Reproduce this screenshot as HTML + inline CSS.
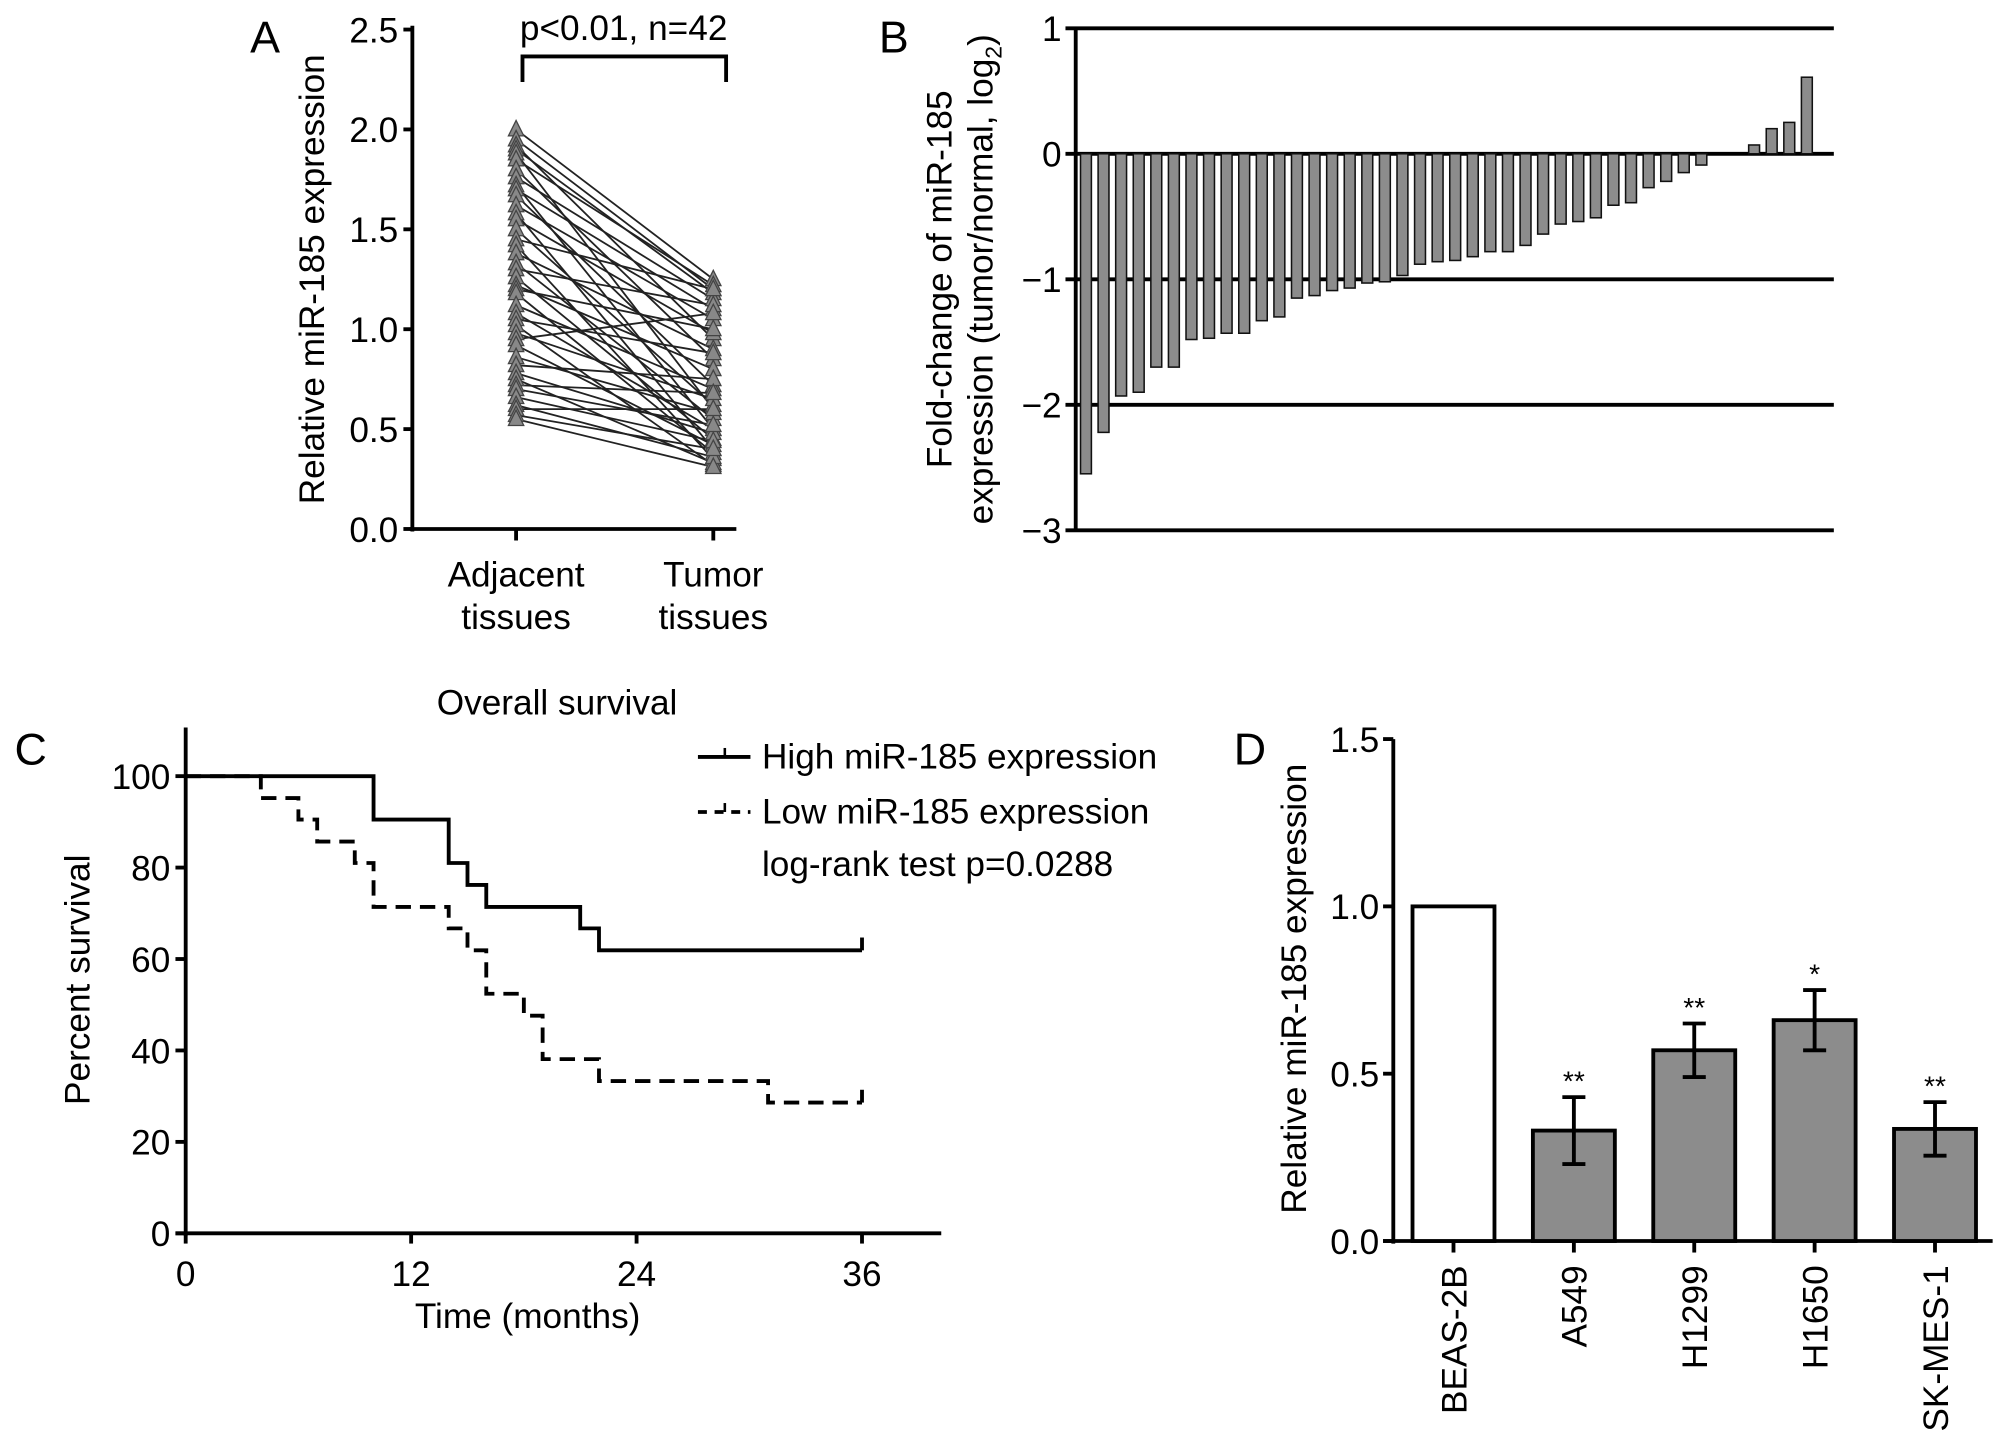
<!DOCTYPE html>
<html><head><meta charset="utf-8"><style>
html,body{margin:0;padding:0;background:#fff;}
svg{display:block;font-family:"Liberation Sans",sans-serif;}
</style></head><body>
<svg id="fig" width="2008" height="1446" viewBox="0 0 1568 1129" xmlns="http://www.w3.org/2000/svg">
<g id="pA"></g>
<g id="pB"></g>
<g id="pC"></g>
<g id="pD"></g>
</svg>
<script>
// Panel A data
const adjVals = [2.0,1.95,1.92,1.9,1.88,1.85,1.8,1.76,1.72,1.7,1.67,1.62,1.58,1.55,1.5,1.45,1.42,1.38,1.33,1.3,1.26,1.22,1.2,1.18,1.12,1.08,1.05,1.02,0.98,0.95,0.92,0.86,0.82,0.78,0.75,0.72,0.7,0.66,0.62,0.6,0.57,0.55];
const tumVals = [1.25,1.2,0.95,1.18,0.6,1.22,0.85,1.15,0.5,1.1,0.72,1.05,0.4,0.98,0.62,1.2,0.35,0.9,0.55,1.12,0.45,0.8,1.0,0.38,0.7,0.5,0.88,0.32,0.65,1.08,0.42,0.58,0.75,0.48,0.33,0.68,0.52,0.44,0.36,0.6,0.4,0.31];
const aTicks = [0,0.5,1.0,1.5,2.0,2.5];
// Panel B data
const foldVals = [-2.55,-2.22,-1.93,-1.9,-1.7,-1.7,-1.48,-1.47,-1.43,-1.43,-1.33,-1.3,-1.15,-1.13,-1.09,-1.07,-1.03,-1.02,-0.97,-0.88,-0.86,-0.85,-0.82,-0.78,-0.78,-0.73,-0.64,-0.56,-0.54,-0.51,-0.41,-0.39,-0.27,-0.22,-0.15,-0.09,0,0,0.07,0.2,0.25,0.61];
const bTicks = [1,0,-1,-2,-3];
// Panel C data
const highT = [0,10,14,15,16,21,22,36];
const highS = [100,90.5,81,76.2,71.4,66.7,61.9,61.9];
const lowT = [0,4,6,7,9,10,14,15,16,18,19,22,31,36];
const lowS = [100,95.2,90.5,85.7,81,71.4,66.7,61.9,52.4,47.6,38.1,33.3,28.6,28.6];
const cYTicks = [0,20,40,60,80,100];
const cXTicks = [0,12,24,36];
// Panel D data
const cellLines = ["BEAS-2B","A549","H1299","H1650","SK-MES-1"];
const cellMeans = [1.0,0.33,0.57,0.66,0.335];
const cellErr = [0,0.1,0.08,0.09,0.08];
const cellStars = ["","**","**","*","**"];
const dTicks = ["0.0","0.5","1.0","1.5"];

const FS=27.5;
const NS="http://www.w3.org/2000/svg";
function mk(parent,tag,attrs,text){const e=document.createElementNS(NS,tag);for(const k in attrs)e.setAttribute(k,attrs[k]);if(text!==undefined)e.textContent=text;parent.appendChild(e);return e;}

// ---------- Panel A ----------
(function(){
const g=document.getElementById('pA');
const x0=322,yA=v=>413-v*156;
const xAdj=403,xTum=557;
let t=mk(g,'text',{x:207,y:41,'font-size':35,'text-anchor':'middle'},'A');

let ax=mk(g,'line',{x1:x0,y1:20,x2:x0,y2:415,stroke:'#000','stroke-width':3});

let xax=mk(g,'line',{x1:x0-2,y1:413,x2:575,y2:413,stroke:'#000','stroke-width':3});

aTicks.forEach(v=>{
 const y=yA(v);
 mk(g,'line',{x1:x0-7,y1:y,x2:x0,y2:y,stroke:'#000','stroke-width':3});
 const l=mk(g,'text',{x:x0-11,y:y+10,'font-size':FS,'text-anchor':'end'},v.toFixed(1));
 
});
[xAdj,xTum].forEach(x=>mk(g,'line',{x1:x,y1:413,x2:x,y2:422,stroke:'#000','stroke-width':3}));
let yt=mk(g,'text',{x:0,y:0,'font-size':FS,'text-anchor':'middle',transform:'translate(253,218) rotate(-90)'},'Relative miR-185 expression');

[['Adjacent','tissues',xAdj],['Tumor','tissues',xTum]].forEach(a=>{
 const e=mk(g,'text',{x:a[2],y:458,'font-size':FS,'text-anchor':'middle'},a[0]);
 
 mk(g,'text',{x:a[2],y:491,'font-size':FS,'text-anchor':'middle'},a[1]);
});
let br=mk(g,'path',{d:'M408,64 V44 H567 V64',fill:'none',stroke:'#000','stroke-width':3});

let pt=mk(g,'text',{x:487,y:31,'font-size':FS,'text-anchor':'middle'},'p<0.01, n=42');

adjVals.forEach((v,i)=>{
 const ln=mk(g,'line',{x1:xAdj,y1:yA(v),x2:xTum,y2:yA(tumVals[i]),stroke:'#222','stroke-width':1.4});
 
});
function tri(x,y){return `${x},${y-7} ${x-6},${y+5} ${x+6},${y+5}`;}
adjVals.forEach((v,i)=>{
 const p=mk(g,'polygon',{points:tri(xAdj,yA(v)),fill:'#888',stroke:'#444','stroke-width':1});
 
 const q=mk(g,'polygon',{points:tri(xTum,yA(tumVals[i])),fill:'#888',stroke:'#444','stroke-width':1});
 
});
})();

// ---------- Panel B ----------
(function(){
const g=document.getElementById('pB');
const x0=840,yB=v=>120-v*98;
let t=mk(g,'text',{x:698,y:41,'font-size':35,'text-anchor':'middle'},'B');

let ax=mk(g,'line',{x1:x0,y1:yB(1),x2:x0,y2:yB(-3),stroke:'#000','stroke-width':3});

bTicks.forEach(v=>{
 const y=yB(v);
 const gl=mk(g,'line',{x1:x0-8,y1:y,x2:1432,y2:y,stroke:'#000','stroke-width':3});
 
 const l=mk(g,'text',{x:x0-11,y:y+10,'font-size':FS,'text-anchor':'end'},v<0?'\u2212'+Math.abs(v):String(v));
 
});
const step=13.73,bw=8.5;
foldVals.forEach((v,i)=>{
 if(v===0)return;
 const cx=848+i*step;
 const y1=Math.min(yB(v),yB(0)),h=Math.abs(yB(v)-yB(0));
 const r=mk(g,'rect',{x:cx-bw/2,y:y1,width:bw,height:h,fill:'#8c8c8c',stroke:'#111','stroke-width':1.2});
 
});
let yt=mk(g,'text',{x:0,y:0,'font-size':FS,'text-anchor':'middle',transform:'translate(743,218) rotate(-90)'},'Fold-change of miR-185');

const y2=mk(g,'text',{x:0,y:0,'font-size':FS,'text-anchor':'middle',transform:'translate(775,218) rotate(-90)'});
y2.textContent='expression (tumor/normal, log';
mk(y2,'tspan',{'font-size':18,dy:7},'2');
mk(y2,'tspan',{dy:-7},')');
})();

// ---------- Panel C ----------
(function(){
const g=document.getElementById('pC');
const x0=145,xC=m=>145+m*14.67,yC=v=>963-v*3.57;
let t=mk(g,'text',{x:24,y:597,'font-size':35,'text-anchor':'middle'},'C');

let ti=mk(g,'text',{x:435,y:558,'font-size':FS,'text-anchor':'middle'},'Overall survival');

let ax=mk(g,'line',{x1:x0,y1:568,x2:x0,y2:965,stroke:'#000','stroke-width':3});

let xax=mk(g,'line',{x1:x0-8,y1:963,x2:735,y2:963,stroke:'#000','stroke-width':3});

cYTicks.forEach(v=>{
 const y=yC(v);
 mk(g,'line',{x1:x0-8,y1:y,x2:x0,y2:y,stroke:'#000','stroke-width':3});
 const l=mk(g,'text',{x:x0-12,y:y+10,'font-size':FS,'text-anchor':'end'},String(v));
 
});
cXTicks.forEach(v=>{
 const x=xC(v);
 mk(g,'line',{x1:x,y1:963,x2:x,y2:971,stroke:'#000','stroke-width':3});
 const l=mk(g,'text',{x:x,y:1004,'font-size':FS,'text-anchor':'middle'},String(v));
 
});
let xt=mk(g,'text',{x:412,y:1037,'font-size':FS,'text-anchor':'middle'},'Time (months)');

let yt=mk(g,'text',{x:0,y:0,'font-size':FS,'text-anchor':'middle',transform:'translate(70,765) rotate(-90)'},'Percent survival');

function stepPath(T,S){let d=`M${xC(T[0])},${yC(S[0])}`;for(let i=1;i<T.length;i++){d+=` H${xC(T[i])} V${yC(S[i])}`;}return d;}
let hp=mk(g,'path',{d:stepPath(highT,highS),fill:'none',stroke:'#000','stroke-width':3});

const he=highS[highS.length-1];
mk(g,'line',{x1:xC(36),y1:yC(he),x2:xC(36),y2:yC(he)-10,stroke:'#000','stroke-width':3});
let lp=mk(g,'path',{d:stepPath(lowT,lowS),fill:'none',stroke:'#000','stroke-width':3,'stroke-dasharray':'12,7'});

const le=lowS[lowS.length-1];
mk(g,'line',{x1:xC(36),y1:yC(le),x2:xC(36),y2:yC(le)-10,stroke:'#000','stroke-width':3});
let l1=mk(g,'g',{});
mk(l1,'line',{x1:545,y1:591,x2:586,y2:591,stroke:'#000','stroke-width':3});
mk(l1,'line',{x1:566,y1:591,x2:566,y2:584,stroke:'#000','stroke-width':2});
mk(l1,'text',{x:595,y:600,'font-size':FS},'High miR-185 expression');
let l2=mk(g,'g',{});
mk(l2,'line',{x1:545,y1:634,x2:586,y2:634,stroke:'#000','stroke-width':3,'stroke-dasharray':'7,6'});
mk(l2,'line',{x1:566,y1:634,x2:566,y2:627,stroke:'#000','stroke-width':2});
mk(l2,'text',{x:595,y:643,'font-size':FS},'Low miR-185 expression');
let lr=mk(g,'text',{x:595,y:684,'font-size':FS},'log-rank test p=0.0288');

})();

// ---------- Panel D ----------
(function(){
const g=document.getElementById('pD');
const x0=1088,yD=v=>969-v*261.3;
let t=mk(g,'text',{x:976,y:597,'font-size':35,'text-anchor':'middle'},'D');

let ax=mk(g,'line',{x1:x0,y1:yD(1.5),x2:x0,y2:971,stroke:'#000','stroke-width':3});

let xax=mk(g,'line',{x1:x0-8,y1:969,x2:1556,y2:969,stroke:'#000','stroke-width':3});

dTicks.forEach(s=>{
 const y=yD(parseFloat(s));
 mk(g,'line',{x1:x0-8,y1:y,x2:x0,y2:y,stroke:'#000','stroke-width':3});
 const l=mk(g,'text',{x:x0-11,y:y+10,'font-size':FS,'text-anchor':'end'},s);
 
});
let yt=mk(g,'text',{x:0,y:0,'font-size':FS,'text-anchor':'middle',transform:'translate(1020,772) rotate(-90)'},'Relative miR-185 expression');

const bw=64,step=94;
cellLines.forEach((name,i)=>{
 const cx=1135+i*step,v=cellMeans[i];
 const r=mk(g,'rect',{x:cx-bw/2,y:yD(v),width:bw,height:969-yD(v),fill:i===0?'#fff':'#8c8c8c',stroke:'#000','stroke-width':3});
 
 if(cellErr[i]>0){
  const e=cellErr[i];
  const eb=mk(g,'path',{d:`M${cx},${yD(v-e)} V${yD(v+e)} M${cx-9},${yD(v+e)} H${cx+9} M${cx-9},${yD(v-e)} H${cx+9}`,stroke:'#000','stroke-width':3,fill:'none'});
  
 }
 if(cellStars[i]){
  const s=mk(g,'text',{x:cx,y:yD(v+cellErr[i])-5,'font-size':22,'text-anchor':'middle'},cellStars[i]);
  
 }
 mk(g,'line',{x1:cx,y1:969,x2:cx,y2:978,stroke:'#000','stroke-width':3});
 const l=mk(g,'text',{x:0,y:0,'font-size':FS,'text-anchor':'end',transform:`translate(${cx+10},988) rotate(-90)`},name);
 
});
})();
</script>
</body></html>
